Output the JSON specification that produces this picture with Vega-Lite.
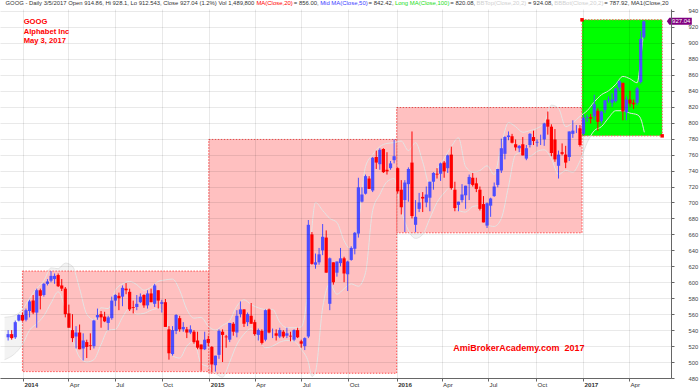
{
  "$schema": "https://vega.github.io/schema/vega-lite/v6.json",
  "width": 671,
  "height": 369,
  "autosize": {"type": "none"},
  "padding": {"left": 0, "top": 9, "right": 29, "bottom": 10},
  "background": "white",
  "config": {"view": {"stroke": null}, "font": "Liberation Sans"},
  "datasets": {
    "px": [
      {"d":"2013-12-04","o":531,"h":540,"l":527,"c":535},
      {"d":"2013-12-11","o":535,"h":540,"l":528,"c":530},
      {"d":"2013-12-18","o":531,"h":552,"l":529,"c":550},
      {"d":"2013-12-25","o":552,"h":560,"l":551,"c":559},
      {"d":"2014-01-01","o":559,"h":562,"l":551,"c":552},
      {"d":"2014-01-08","o":553,"h":567,"l":551,"c":565},
      {"d":"2014-01-15","o":564,"h":578,"l":556,"c":576},
      {"d":"2014-01-22","o":577,"h":584,"l":560,"c":562},
      {"d":"2014-01-29","o":562,"h":592,"l":543,"c":590},
      {"d":"2014-02-05","o":590,"h":592,"l":566,"c":583},
      {"d":"2014-02-12","o":584,"h":599,"l":582,"c":598},
      {"d":"2014-02-19","o":598,"h":604,"l":596,"c":601},
      {"d":"2014-02-26","o":602,"h":614,"l":600,"c":608},
      {"d":"2014-03-05","o":604,"h":611,"l":598,"c":608},
      {"d":"2014-03-12","o":609,"h":611,"l":594,"c":595},
      {"d":"2014-03-19","o":596,"h":604,"l":589,"c":592},
      {"d":"2014-03-26","o":592,"h":594,"l":556,"c":560},
      {"d":"2014-04-02","o":561,"h":572,"l":543,"c":543},
      {"d":"2014-04-09","o":540,"h":560,"l":525,"c":530},
      {"d":"2014-04-16","o":532,"h":545,"l":517,"c":537},
      {"d":"2014-04-23","o":537,"h":547,"l":516,"c":516},
      {"d":"2014-04-30","o":517,"h":536,"l":502,"c":527},
      {"d":"2014-05-07","o":525,"h":528,"l":505,"c":519},
      {"d":"2014-05-14","o":521,"h":536,"l":515,"c":520},
      {"d":"2014-05-21","o":520,"h":553,"l":517,"c":552},
      {"d":"2014-05-28","o":556,"h":567,"l":553,"c":559},
      {"d":"2014-06-04","o":560,"h":564,"l":543,"c":556},
      {"d":"2014-06-11","o":557,"h":563,"l":550,"c":551},
      {"d":"2014-06-18","o":549,"h":558,"l":540,"c":556},
      {"d":"2014-06-25","o":555,"h":582,"l":553,"c":577},
      {"d":"2014-07-02","o":577,"h":585,"l":570,"c":584},
      {"d":"2014-07-09","o":583,"h":587,"l":565,"c":580},
      {"d":"2014-07-16","o":582,"h":596,"l":570,"c":593},
      {"d":"2014-07-23","o":592,"h":599,"l":585,"c":590},
      {"d":"2014-07-30","o":588,"h":592,"l":564,"c":566},
      {"d":"2014-08-06","o":569,"h":577,"l":561,"c":568},
      {"d":"2014-08-13","o":569,"h":584,"l":565,"c":573},
      {"d":"2014-08-20","o":575,"h":586,"l":574,"c":582},
      {"d":"2014-08-27","o":584,"h":585,"l":568,"c":571},
      {"d":"2014-09-03","o":571,"h":590,"l":567,"c":586},
      {"d":"2014-09-10","o":586,"h":592,"l":575,"c":575},
      {"d":"2014-09-17","o":573,"h":598,"l":569,"c":596},
      {"d":"2014-09-24","o":590,"h":590,"l":567,"c":577},
      {"d":"2014-10-01","o":573,"h":578,"l":562,"c":575},
      {"d":"2014-10-08","o":575,"h":579,"l":544,"c":544},
      {"d":"2014-10-15","o":541,"h":545,"l":503,"c":511},
      {"d":"2014-10-22","o":510,"h":545,"l":508,"c":540},
      {"d":"2014-10-29","o":539,"h":560,"l":535,"c":559},
      {"d":"2014-11-05","o":555,"h":558,"l":538,"c":541},
      {"d":"2014-11-12","o":541,"h":550,"l":538,"c":544},
      {"d":"2014-11-19","o":541,"h":544,"l":530,"c":537},
      {"d":"2014-11-26","o":537,"h":546,"l":535,"c":541},
      {"d":"2014-12-03","o":538,"h":540,"l":523,"c":525},
      {"d":"2014-12-10","o":527,"h":538,"l":516,"c":518},
      {"d":"2014-12-17","o":522,"h":522,"l":489,"c":516},
      {"d":"2014-12-24","o":516,"h":538,"l":515,"c":528},
      {"d":"2014-12-31","o":529,"h":533,"l":520,"c":524},
      {"d":"2015-01-07","o":519,"h":520,"l":487,"c":497},
      {"d":"2015-01-14","o":496,"h":508,"l":488,"c":508},
      {"d":"2015-01-21","o":509,"h":541,"l":504,"c":539},
      {"d":"2015-01-28","o":538,"h":541,"l":500,"c":534},
      {"d":"2015-02-04","o":532,"h":534,"l":518,"c":531},
      {"d":"2015-02-11","o":528,"h":549,"l":525,"c":549},
      {"d":"2015-02-18","o":548,"h":550,"l":533,"c":538},
      {"d":"2015-02-25","o":537,"h":565,"l":531,"c":558},
      {"d":"2015-03-04","o":560,"h":576,"l":556,"c":566},
      {"d":"2015-03-11","o":566,"h":566,"l":544,"c":548},
      {"d":"2015-03-18","o":550,"h":562,"l":545,"c":560},
      {"d":"2015-03-25","o":558,"h":574,"l":548,"c":548},
      {"d":"2015-04-01","o":550,"h":553,"l":533,"c":535},
      {"d":"2015-04-08","o":534,"h":542,"l":527,"c":540},
      {"d":"2015-04-15","o":539,"h":541,"l":522,"c":524},
      {"d":"2015-04-22","o":528,"h":566,"l":526,"c":565},
      {"d":"2015-04-29","o":566,"h":567,"l":536,"c":537},
      {"d":"2015-05-06","o":538,"h":542,"l":530,"c":538},
      {"d":"2015-05-13","o":536,"h":541,"l":527,"c":533},
      {"d":"2015-05-20","o":532,"h":543,"l":530,"c":540},
      {"d":"2015-05-27","o":538,"h":540,"l":530,"c":532},
      {"d":"2015-06-03","o":533,"h":543,"l":530,"c":536},
      {"d":"2015-06-10","o":533,"h":538,"l":526,"c":532},
      {"d":"2015-06-17","o":528,"h":541,"l":526,"c":540},
      {"d":"2015-06-24","o":540,"h":543,"l":530,"c":531},
      {"d":"2015-07-01","o":526,"h":528,"l":518,"c":523},
      {"d":"2015-07-08","o":520,"h":531,"l":515,"c":530},
      {"d":"2015-07-15","o":532,"h":678,"l":530,"c":672},
      {"d":"2015-07-22","o":660,"h":663,"l":622,"c":623},
      {"d":"2015-07-29","o":622,"h":636,"l":617,"c":625},
      {"d":"2015-08-05","o":625,"h":643,"l":622,"c":635},
      {"d":"2015-08-12","o":640,"h":673,"l":634,"c":657},
      {"d":"2015-08-19","o":656,"h":665,"l":612,"c":612},
      {"d":"2015-08-26","o":573,"h":631,"l":565,"c":630},
      {"d":"2015-09-02","o":625,"h":625,"l":597,"c":600},
      {"d":"2015-09-09","o":612,"h":626,"l":607,"c":626},
      {"d":"2015-09-16","o":624,"h":643,"l":620,"c":630},
      {"d":"2015-09-23","o":630,"h":632,"l":600,"c":611},
      {"d":"2015-09-30","o":610,"h":627,"l":589,"c":626},
      {"d":"2015-10-07","o":628,"h":645,"l":627,"c":643},
      {"d":"2015-10-14","o":642,"h":663,"l":635,"c":662},
      {"d":"2015-10-21","o":661,"h":731,"l":656,"c":719},
      {"d":"2015-10-28","o":701,"h":719,"l":700,"c":710},
      {"d":"2015-11-04","o":711,"h":735,"l":710,"c":733},
      {"d":"2015-11-11","o":730,"h":733,"l":717,"c":717},
      {"d":"2015-11-18","o":715,"h":757,"l":713,"c":756},
      {"d":"2015-11-25","o":757,"h":765,"l":742,"c":750},
      {"d":"2015-12-02","o":748,"h":768,"l":741,"c":766},
      {"d":"2015-12-09","o":767,"h":768,"l":737,"c":738},
      {"d":"2015-12-16","o":741,"h":763,"l":735,"c":739},
      {"d":"2015-12-23","o":743,"h":752,"l":741,"c":749},
      {"d":"2015-12-30","o":753,"h":779,"l":749,"c":758},
      {"d":"2016-01-06","o":743,"h":744,"l":711,"c":714},
      {"d":"2016-01-13","o":716,"h":728,"l":685,"c":694},
      {"d":"2016-01-20","o":703,"h":728,"l":663,"c":725},
      {"d":"2016-01-27","o":723,"h":744,"l":701,"c":742},
      {"d":"2016-02-03","o":750,"h":789,"l":680,"c":683},
      {"d":"2016-02-10","o":672,"h":703,"l":663,"c":682},
      {"d":"2016-02-17","o":692,"h":712,"l":688,"c":700},
      {"d":"2016-02-24","o":707,"h":713,"l":688,"c":705},
      {"d":"2016-03-02","o":700,"h":720,"l":694,"c":710},
      {"d":"2016-03-09","o":706,"h":726,"l":689,"c":726},
      {"d":"2016-03-16","o":726,"h":738,"l":716,"c":737},
      {"d":"2016-03-23","o":736,"h":743,"l":730,"c":735},
      {"d":"2016-03-30","o":736,"h":750,"l":727,"c":749},
      {"d":"2016-04-06","o":750,"h":752,"l":731,"c":739},
      {"d":"2016-04-13","o":743,"h":760,"l":737,"c":759},
      {"d":"2016-04-20","o":760,"h":770,"l":716,"c":718},
      {"d":"2016-04-27","o":716,"h":726,"l":689,"c":693},
      {"d":"2016-05-04","o":697,"h":701,"l":689,"c":701},
      {"d":"2016-05-11","o":703,"h":723,"l":700,"c":710},
      {"d":"2016-05-18","o":709,"h":721,"l":692,"c":721},
      {"d":"2016-05-25","o":723,"h":735,"l":703,"c":732},
      {"d":"2016-06-01","o":731,"h":737,"l":720,"c":722},
      {"d":"2016-06-08","o":724,"h":731,"l":713,"c":717},
      {"d":"2016-06-15","o":716,"h":720,"l":690,"c":692},
      {"d":"2016-06-22","o":698,"h":708,"l":675,"c":675},
      {"d":"2016-06-29","o":671,"h":700,"l":668,"c":699},
      {"d":"2016-07-06","o":696,"h":706,"l":682,"c":705},
      {"d":"2016-07-13","o":708,"h":725,"l":707,"c":720},
      {"d":"2016-07-20","o":722,"h":742,"l":719,"c":742},
      {"d":"2016-07-27","o":740,"h":780,"l":737,"c":768},
      {"d":"2016-08-03","o":761,"h":783,"l":754,"c":782},
      {"d":"2016-08-10","o":782,"h":789,"l":778,"c":784},
      {"d":"2016-08-17","o":783,"h":786,"l":774,"c":775},
      {"d":"2016-08-24","o":773,"h":779,"l":765,"c":769},
      {"d":"2016-08-31","o":768,"h":772,"l":763,"c":771},
      {"d":"2016-09-07","o":773,"h":782,"l":759,"c":759},
      {"d":"2016-09-14","o":755,"h":772,"l":753,"c":768},
      {"d":"2016-09-21","o":772,"h":787,"l":769,"c":786},
      {"d":"2016-09-28","o":782,"h":790,"l":772,"c":777},
      {"d":"2016-10-05","o":775,"h":779,"l":770,"c":776},
      {"d":"2016-10-12","o":778,"h":785,"l":772,"c":778},
      {"d":"2016-10-19","o":779,"h":800,"l":771,"c":799},
      {"d":"2016-10-26","o":804,"h":814,"l":785,"c":795},
      {"d":"2016-11-02","o":795,"h":798,"l":758,"c":762},
      {"d":"2016-11-09","o":779,"h":792,"l":751,"c":754},
      {"d":"2016-11-16","o":746,"h":765,"l":730,"c":760},
      {"d":"2016-11-23","o":763,"h":774,"l":759,"c":761},
      {"d":"2016-11-30","o":760,"h":771,"l":743,"c":750},
      {"d":"2016-12-07","o":757,"h":789,"l":752,"c":789},
      {"d":"2016-12-14","o":786,"h":803,"l":781,"c":790},
      {"d":"2016-12-21","o":790,"h":797,"l":787,"c":790},
      {"d":"2016-12-28","o":793,"h":797,"l":770,"c":772},
      {"d":"2017-01-04","o":786,"h":810,"l":784,"c":806},
      {"d":"2017-01-11","o":806,"h":810,"l":801,"c":807},
      {"d":"2017-01-18","o":807,"h":811,"l":799,"c":805},
      {"d":"2017-01-25","o":808,"h":835,"l":803,"c":823},
      {"d":"2017-02-01","o":815,"h":818,"l":790,"c":801},
      {"d":"2017-02-08","o":802,"h":815,"l":799,"c":814},
      {"d":"2017-02-15","o":816,"h":828,"l":812,"c":828},
      {"d":"2017-02-22","o":828,"h":833,"l":825,"c":829},
      {"d":"2017-03-01","o":825,"h":837,"l":820,"c":829},
      {"d":"2017-03-08","o":827,"h":844,"l":825,"c":843},
      {"d":"2017-03-15","o":844,"h":853,"l":840,"c":852},
      {"d":"2017-03-22","o":850,"h":850,"l":803,"c":814},
      {"d":"2017-03-29","o":813,"h":833,"l":803,"c":829},
      {"d":"2017-04-05","o":829,"h":840,"l":820,"c":824},
      {"d":"2017-04-12","o":825,"h":829,"l":817,"c":823},
      {"d":"2017-04-19","o":825,"h":845,"l":822,"c":843},
      {"d":"2017-04-26","o":851,"h":915,"l":849,"c":905},
      {"d":"2017-05-02","o":907,"h":928.1,"l":905,"c":927.04}
    ],
    "bb": [
      {"d":"2013-11-27","top":556,"bot":503},
      {"d":"2013-12-16","top":558,"bot":510},
      {"d":"2014-01-01","top":566,"bot":522},
      {"d":"2014-01-15","top":580,"bot":540},
      {"d":"2014-01-29","top":592,"bot":548},
      {"d":"2014-02-12","top":602,"bot":558},
      {"d":"2014-02-26","top":618,"bot":574},
      {"d":"2014-03-12","top":617,"bot":588},
      {"d":"2014-03-26","top":624,"bot":566},
      {"d":"2014-04-09","top":620,"bot":530},
      {"d":"2014-04-23","top":592,"bot":506},
      {"d":"2014-05-07","top":560,"bot":500},
      {"d":"2014-05-21","top":553,"bot":503},
      {"d":"2014-06-04","top":568,"bot":522},
      {"d":"2014-06-18","top":567,"bot":540},
      {"d":"2014-07-02","top":590,"bot":541},
      {"d":"2014-07-16","top":598,"bot":556},
      {"d":"2014-07-30","top":601,"bot":568},
      {"d":"2014-08-13","top":597,"bot":560},
      {"d":"2014-08-27","top":590,"bot":561},
      {"d":"2014-09-10","top":594,"bot":565},
      {"d":"2014-09-24","top":601,"bot":567},
      {"d":"2014-10-08","top":603,"bot":560},
      {"d":"2014-10-22","top":604,"bot":508},
      {"d":"2014-11-05","top":590,"bot":505},
      {"d":"2014-11-19","top":566,"bot":520},
      {"d":"2014-12-03","top":555,"bot":526},
      {"d":"2014-12-17","top":556,"bot":498},
      {"d":"2014-12-31","top":545,"bot":494},
      {"d":"2015-01-14","top":540,"bot":486},
      {"d":"2015-01-28","top":546,"bot":481},
      {"d":"2015-02-11","top":552,"bot":500},
      {"d":"2015-02-25","top":570,"bot":522},
      {"d":"2015-03-11","top":578,"bot":535},
      {"d":"2015-03-25","top":572,"bot":542},
      {"d":"2015-04-08","top":568,"bot":530},
      {"d":"2015-04-22","top":566,"bot":518},
      {"d":"2015-05-06","top":566,"bot":520},
      {"d":"2015-05-20","top":550,"bot":525},
      {"d":"2015-06-03","top":543,"bot":527},
      {"d":"2015-06-17","top":543,"bot":526},
      {"d":"2015-07-01","top":544,"bot":516},
      {"d":"2015-07-15","top":600,"bot":500},
      {"d":"2015-07-22","top":668,"bot":482},
      {"d":"2015-07-29","top":700,"bot":488},
      {"d":"2015-08-12","top":690,"bot":568},
      {"d":"2015-08-26","top":680,"bot":598},
      {"d":"2015-09-09","top":675,"bot":585},
      {"d":"2015-09-23","top":652,"bot":592},
      {"d":"2015-10-07","top":641,"bot":598},
      {"d":"2015-10-21","top":675,"bot":595},
      {"d":"2015-11-04","top":745,"bot":612},
      {"d":"2015-11-18","top":760,"bot":690},
      {"d":"2015-12-02","top":770,"bot":710},
      {"d":"2015-12-16","top":774,"bot":726},
      {"d":"2015-12-30","top":775,"bot":730},
      {"d":"2016-01-13","top":777,"bot":690},
      {"d":"2016-01-27","top":765,"bot":665},
      {"d":"2016-02-10","top":775,"bot":655},
      {"d":"2016-02-24","top":751,"bot":660},
      {"d":"2016-03-09","top":722,"bot":680},
      {"d":"2016-03-23","top":742,"bot":700},
      {"d":"2016-04-06","top":755,"bot":712},
      {"d":"2016-04-20","top":770,"bot":720},
      {"d":"2016-05-04","top":781,"bot":690},
      {"d":"2016-05-18","top":745,"bot":688},
      {"d":"2016-06-01","top":738,"bot":695},
      {"d":"2016-06-15","top":740,"bot":696},
      {"d":"2016-06-29","top":746,"bot":672},
      {"d":"2016-07-13","top":735,"bot":670},
      {"d":"2016-07-27","top":772,"bot":680},
      {"d":"2016-08-10","top":800,"bot":720},
      {"d":"2016-08-24","top":795,"bot":760},
      {"d":"2016-09-07","top":788,"bot":763},
      {"d":"2016-09-21","top":790,"bot":758},
      {"d":"2016-10-05","top":793,"bot":764},
      {"d":"2016-10-19","top":800,"bot":766},
      {"d":"2016-11-02","top":822,"bot":755},
      {"d":"2016-11-16","top":818,"bot":735},
      {"d":"2016-11-30","top":795,"bot":740},
      {"d":"2016-12-14","top":800,"bot":738},
      {"d":"2016-12-28","top":808,"bot":752},
      {"d":"2017-01-11","top":815,"bot":775},
      {"d":"2017-01-25","top":826,"bot":790},
      {"d":"2017-02-08","top":835,"bot":795},
      {"d":"2017-02-22","top":840,"bot":806},
      {"d":"2017-03-08","top":848,"bot":815},
      {"d":"2017-03-22","top":858,"bot":815},
      {"d":"2017-04-05","top":855,"bot":812},
      {"d":"2017-04-19","top":850,"bot":810},
      {"d":"2017-04-26","top":880,"bot":805},
      {"d":"2017-05-03","top":924.08,"bot":787.92}
    ],
    "box": [
      {"yr":2014,"start":"2014-01-01","end":"2015-01-01","lo":488,"hi":614},
      {"yr":2015,"start":"2015-01-01","end":"2016-01-04","lo":486,"hi":779},
      {"yr":2016,"start":"2016-01-04","end":"2017-01-01","lo":662,"hi":819},
      {"yr":2017,"start":"2017-01-01","end":"2017-06-07","lo":783.5,"hi":929}
    ]
  },
  "layer": [
    {
      "data": {"name": "bb"},
      "mark": {"type": "area", "color": "#8a8a8a", "opacity": 0.1, "interpolate": "monotone"},
      "encoding": {
        "x": {
          "field": "d", "type": "temporal", "title": null,
          "scale": {"type": "utc", "nice": false, "domain": [{"year": 2013, "month": 11, "date": 27, "hours": 21, "utc": true}, {"year": 2017, "month": 6, "date": 14, "hours": 12, "utc": true}]},
          "axis": {
            "values": [
              {"year": 2014, "month": 1, "date": 2, "utc": true},
              {"year": 2014, "month": 4, "date": 1, "utc": true},
              {"year": 2014, "month": 7, "date": 1, "utc": true},
              {"year": 2014, "month": 10, "date": 1, "utc": true},
              {"year": 2015, "month": 1, "date": 2, "utc": true},
              {"year": 2015, "month": 4, "date": 1, "utc": true},
              {"year": 2015, "month": 7, "date": 1, "utc": true},
              {"year": 2015, "month": 10, "date": 1, "utc": true},
              {"year": 2016, "month": 1, "date": 4, "utc": true},
              {"year": 2016, "month": 4, "date": 1, "utc": true},
              {"year": 2016, "month": 7, "date": 1, "utc": true},
              {"year": 2016, "month": 10, "date": 3, "utc": true},
              {"year": 2017, "month": 1, "date": 3, "utc": true},
              {"year": 2017, "month": 4, "date": 3, "utc": true}
            ],
            "tickCount": 40,
            "labelExpr": "utcmonth(datum.value) == 0 ? utcFormat(datum.value, '%Y') : utcFormat(datum.value, '%b')",
            "labelFontWeight": {"condition": {"test": "utcmonth(datum.value) == 0", "value": "bold"}, "value": "normal"},
            "labelAlign": "left",
            "labelBaseline": "top",
            "labelPadding": 0,
            "labelOffset": 1,
            "labelFontSize": 6.2,
            "labelFont": "Liberation Sans",
            "labelColor": "#333333",
            "labelOverlap": false,
            "labelFlush": false,
            "tickSize": 3,
            "tickColor": "#666666",
            "domainColor": "#666666",
            "grid": true,
            "gridColor": "#000000",
            "gridOpacity": 0.085,
            "zindex": 1,
            "title": null
          }
        },
        "y": {
          "field": "top", "type": "quantitative", "title": null,
          "scale": {"domain": [480, 942.5], "nice": false, "zero": false},
          "axis": {
            "orient": "right",
            "values": [480,500,520,540,560,580,600,620,640,660,680,700,720,740,760,780,800,820,840,860,880,900,920,940],
            "tickCount": 40,
            "tickSize": 3,
            "tickColor": "#666666",
            "domainColor": "#666666",
            "labelPadding": 14,
            "labelAlign": "left",
            "labelBaseline": "middle",
            "labelFontSize": 5.8,
            "labelFont": "Liberation Sans",
            "labelColor": "#444444",
            "labelOverlap": false,
            "labelFlush": false,
            "grid": true,
            "gridColor": "#000000",
            "gridOpacity": 0.085,
            "zindex": 1,
            "title": null
          }
        },
        "y2": {"field": "bot"}
      }
    },
    {
      "data": {"name": "box"},
      "transform": [{"filter": "datum.yr < 2017"}],
      "mark": {"type": "rect", "fill": "#ffc0c0", "stroke": "#ff5050", "strokeWidth": 1, "strokeDash": [1.5, 1.5]},
      "encoding": {
        "x": {"field": "start", "type": "temporal", "title": null},
        "x2": {"field": "end"},
        "y": {"field": "lo", "type": "quantitative", "title": null},
        "y2": {"field": "hi"}
      }
    },
    {
      "data": {"name": "box"},
      "transform": [{"filter": "datum.yr == 2017"}],
      "mark": {"type": "rect", "fill": "#00ff00", "stroke": "#ff5050", "strokeWidth": 1, "strokeDash": [1.5, 1.5]},
      "encoding": {
        "x": {"field": "start", "type": "temporal", "title": null},
        "x2": {"field": "end"},
        "y": {"field": "lo", "type": "quantitative", "title": null},
        "y2": {"field": "hi"}
      }
    },
    {
      "data": {"name": "bb"},
      "mark": {"type": "line", "color": "#e4e4e4", "strokeWidth": 1, "interpolate": "monotone"},
      "encoding": {
        "x": {"field": "d", "type": "temporal", "title": null},
        "y": {"field": "top", "type": "quantitative", "title": null}
      }
    },
    {
      "data": {"name": "bb"},
      "mark": {"type": "line", "color": "#e4e4e4", "strokeWidth": 1, "interpolate": "monotone"},
      "encoding": {
        "x": {"field": "d", "type": "temporal", "title": null},
        "y": {"field": "bot", "type": "quantitative", "title": null}
      }
    },
    {
      "data": {"name": "px"},
      "mark": {"type": "rule", "strokeWidth": 1},
      "encoding": {
        "x": {"field": "d", "type": "temporal", "title": null},
        "y": {"field": "l", "type": "quantitative", "title": null},
        "y2": {"field": "h"},
        "color": {"condition": {"test": "datum.c >= datum.o", "value": "#4d4dff"}, "value": "#ff0000"}
      }
    },
    {
      "data": {"name": "px"},
      "mark": {"type": "bar", "width": 3.2},
      "encoding": {
        "x": {"field": "d", "type": "temporal", "title": null},
        "y": {"field": "o", "type": "quantitative", "title": null},
        "y2": {"field": "c"},
        "color": {"condition": {"test": "datum.c >= datum.o", "value": "#4d4dff"}, "value": "#ff0000"}
      }
    },
    {
      "data": {"name": "box"},
      "transform": [{"filter": "datum.yr == 2017"}],
      "mark": {"type": "point", "shape": "square", "filled": true, "size": 12, "color": "#ff0000", "opacity": 1},
      "encoding": {
        "x": {"field": "start", "type": "temporal", "title": null},
        "y": {"field": "hi", "type": "quantitative", "title": null}
      }
    },
    {
      "data": {"name": "box"},
      "transform": [{"filter": "datum.yr == 2017"}],
      "mark": {"type": "point", "shape": "square", "filled": true, "size": 12, "color": "#ff0000", "opacity": 1},
      "encoding": {
        "x": {"field": "end", "type": "temporal", "title": null},
        "y": {"field": "lo", "type": "quantitative", "title": null}
      }
    },
    {
      "data": {"values": [{"t": "GOOG - Daily 3/5/2017 Open 914.86, Hi 928.1, Lo 912.543, Close 927.04 (1.2%) Vol 1,489,800"}]},
      "mark": {"type": "text", "align": "left", "baseline": "middle", "fontSize": 5.88, "font": "Liberation Sans", "color": "#333333"},
      "encoding": {
        "x": {"datum": {"year": 2013, "month": 11, "date": 28, "hours": 20, "utc": true}, "type": "temporal"},
        "y": {"datum": 950, "type": "quantitative"},
        "text": {"field": "t"}
      }
    },
    {
      "data": {"values": [{"t": "MA(Close,20)"}]},
      "mark": {"type": "text", "align": "left", "baseline": "middle", "fontSize": 5.95, "font": "Liberation Sans", "color": "#ff0000"},
      "encoding": {
        "x": {"datum": {"year": 2015, "month": 4, "date": 4, "hours": 7, "utc": true}, "type": "temporal"},
        "y": {"datum": 950, "type": "quantitative"},
        "text": {"field": "t"}
      }
    },
    {
      "data": {"values": [{"t": "= 856.00,"}]},
      "mark": {"type": "text", "align": "left", "baseline": "middle", "fontSize": 5.95, "font": "Liberation Sans", "color": "#333333"},
      "encoding": {
        "x": {"datum": {"year": 2015, "month": 6, "date": 16, "hours": 14, "utc": true}, "type": "temporal"},
        "y": {"datum": 950, "type": "quantitative"},
        "text": {"field": "t"}
      }
    },
    {
      "data": {"values": [{"t": "Mid MA(Close,50)"}]},
      "mark": {"type": "text", "align": "left", "baseline": "middle", "fontSize": 5.95, "font": "Liberation Sans", "color": "#3c3cff"},
      "encoding": {
        "x": {"datum": {"year": 2015, "month": 8, "date": 7, "hours": 3, "utc": true}, "type": "temporal"},
        "y": {"datum": 950, "type": "quantitative"},
        "text": {"field": "t"}
      }
    },
    {
      "data": {"values": [{"t": "= 842.42,"}]},
      "mark": {"type": "text", "align": "left", "baseline": "middle", "fontSize": 5.95, "font": "Liberation Sans", "color": "#333333"},
      "encoding": {
        "x": {"datum": {"year": 2015, "month": 11, "date": 10, "hours": 1, "utc": true}, "type": "temporal"},
        "y": {"datum": 950, "type": "quantitative"},
        "text": {"field": "t"}
      }
    },
    {
      "data": {"values": [{"t": "Long MA(Close,100)"}]},
      "mark": {"type": "text", "align": "left", "baseline": "middle", "fontSize": 5.95, "font": "Liberation Sans", "color": "#22dd22"},
      "encoding": {
        "x": {"datum": {"year": 2015, "month": 12, "date": 31, "hours": 13, "utc": true}, "type": "temporal"},
        "y": {"datum": 950, "type": "quantitative"},
        "text": {"field": "t"}
      }
    },
    {
      "data": {"values": [{"t": "= 820.08,"}]},
      "mark": {"type": "text", "align": "left", "baseline": "middle", "fontSize": 5.95, "font": "Liberation Sans", "color": "#333333"},
      "encoding": {
        "x": {"datum": {"year": 2016, "month": 4, "date": 18, "hours": 0, "utc": true}, "type": "temporal"},
        "y": {"datum": 950, "type": "quantitative"},
        "text": {"field": "t"}
      }
    },
    {
      "data": {"values": [{"t": "BBTop(Close,20,2)"}]},
      "mark": {"type": "text", "align": "left", "baseline": "middle", "fontSize": 5.95, "font": "Liberation Sans", "color": "#d0d0d0"},
      "encoding": {
        "x": {"datum": {"year": 2016, "month": 6, "date": 8, "hours": 7, "utc": true}, "type": "temporal"},
        "y": {"datum": 950, "type": "quantitative"},
        "text": {"field": "t"}
      }
    },
    {
      "data": {"values": [{"t": "= 924.08,"}]},
      "mark": {"type": "text", "align": "left", "baseline": "middle", "fontSize": 5.95, "font": "Liberation Sans", "color": "#333333"},
      "encoding": {
        "x": {"datum": {"year": 2016, "month": 9, "date": 17, "hours": 5, "utc": true}, "type": "temporal"},
        "y": {"datum": 950, "type": "quantitative"},
        "text": {"field": "t"}
      }
    },
    {
      "data": {"values": [{"t": "BBBot(Close,20,2)"}]},
      "mark": {"type": "text", "align": "left", "baseline": "middle", "fontSize": 5.95, "font": "Liberation Sans", "color": "#d0d0d0"},
      "encoding": {
        "x": {"datum": {"year": 2016, "month": 11, "date": 7, "hours": 13, "utc": true}, "type": "temporal"},
        "y": {"datum": 950, "type": "quantitative"},
        "text": {"field": "t"}
      }
    },
    {
      "data": {"values": [{"t": "= 787.92, MA1(Close,20"}]},
      "mark": {"type": "text", "align": "left", "baseline": "middle", "fontSize": 5.95, "font": "Liberation Sans", "color": "#333333"},
      "encoding": {
        "x": {"datum": {"year": 2017, "month": 2, "date": 13, "hours": 18, "utc": true}, "type": "temporal"},
        "y": {"datum": 950, "type": "quantitative"},
        "text": {"field": "t"}
      }
    },
    {
      "data": {"values": [{"t": "GOOG\nAlphabet Inc\nMay 3, 2017"}]},
      "mark": {"type": "text", "align": "left", "baseline": "top", "lineBreak": "\n", "lineHeight": 9.7, "fontSize": 7.6, "fontWeight": "bold", "font": "Liberation Sans", "color": "#ff0000"},
      "encoding": {
        "x": {"datum": {"year": 2014, "month": 1, "date": 3, "hours": 12, "utc": true}, "type": "temporal"},
        "y": {"datum": 931.2, "type": "quantitative"},
        "text": {"field": "t"}
      }
    },
    {
      "data": {"values": [{"t": "AmiBrokerAcademy.com\u00a0\u00a02017"}]},
      "mark": {"type": "text", "align": "left", "baseline": "middle", "fontSize": 9, "fontWeight": "bold", "font": "Liberation Sans", "color": "#ff0000"},
      "encoding": {
        "x": {"datum": {"year": 2016, "month": 4, "date": 23, "hours": 17, "utc": true}, "type": "temporal"},
        "y": {"datum": 517.6, "type": "quantitative"},
        "text": {"field": "t"}
      }
    },
    {
      "data": {"values": [{"p": 927.04}]},
      "mark": {"type": "point", "shape": "M-1,0L-0.8,-0.28L1,-0.28L1,0.28L-0.8,0.28Z", "filled": true, "size": 625, "color": "#800080", "opacity": 1},
      "encoding": {
        "x": {"datum": {"year": 2017, "month": 7, "date": 10, "hours": 14, "utc": true}, "type": "temporal"},
        "y": {"field": "p", "type": "quantitative", "title": null}
      }
    },
    {
      "data": {"values": [{"p": 927.04, "t": "927.04"}]},
      "mark": {"type": "text", "align": "center", "baseline": "middle", "fontSize": 6, "font": "Liberation Sans", "color": "#ffffff"},
      "encoding": {
        "x": {"datum": {"year": 2017, "month": 7, "date": 14, "hours": 10, "utc": true}, "type": "temporal"},
        "y": {"field": "p", "type": "quantitative", "title": null},
        "text": {"field": "t"}
      }
    }
  ]
}
